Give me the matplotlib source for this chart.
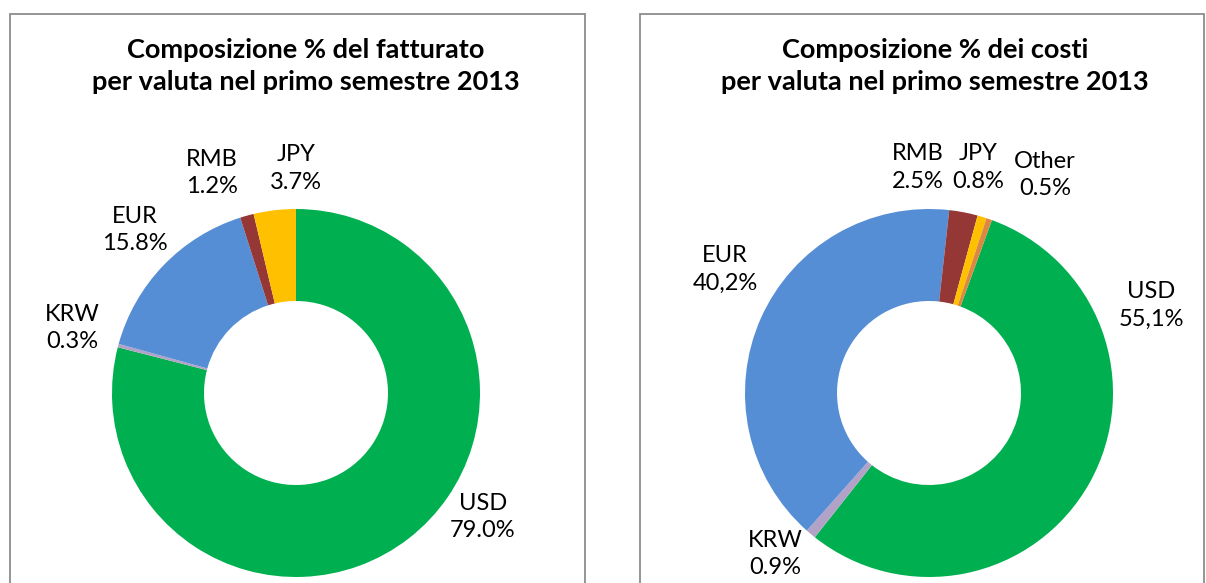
import matplotlib
matplotlib.use("Agg")
import matplotlib.pyplot as plt
from matplotlib.patches import Rectangle

plt.rcParams['font.family'] = ['Lato', 'DejaVu Sans']

# Dati
valute_ricavi = ["USD", "KRW", "EUR", "RMB", "JPY"]
quote_ricavi = [79.0, 0.3, 15.8, 1.2, 3.7]
etichette_ricavi = ["79.0%", "0.3%", "15.8%", "1.2%", "3.7%"]

valute_costi = ["USD", "KRW", "EUR", "RMB", "JPY", "Other"]
quote_costi = [55.1, 0.9, 40.2, 2.5, 0.8, 0.5]
etichette_costi = ["55,1%", "0.9%", "40,2%", "2.5%", "0.8%", "0.5%"]

titolo_ricavi = "Composizione % del fatturato\nper valuta nel primo semestre 2013"
titolo_costi = "Composizione % dei costi\nper valuta nel primo semestre 2013"

colori = {"USD": "#00B050", "KRW": "#B3A2C7", "EUR": "#558ED5",
          "RMB": "#953735", "JPY": "#FFC000", "Other": "#DC8841"}

# posizione delle etichette (in raggi dal centro)
pos_ricavi = [(1.016, -0.674), (-1.217, 0.353), (-0.875, 0.886),
              (-0.457, 1.196), (0.0, 1.22)]
pos_costi = [(1.207, 0.478), (-0.837, -0.875), (-1.109, 0.674),
             (-0.06, 1.225), (0.266, 1.225), (0.63, 1.185)]

W, H = 1206, 583
R = 184
fig = plt.figure(figsize=(W / 100, H / 100), dpi=100)

# cornici dei grafici
for x0, x1 in [(10, 585), (640, 1204)]:
    fig.patches.append(Rectangle((x0 / W, -0.05), (x1 - x0) / W, (H - 14) / H + 0.05,
                                 transform=fig.transFigure, fill=False,
                                 edgecolor="#8C8C8C", linewidth=1.3))


def ciambella(cx, cy, valute, quote, etichette, pos, start, titolo, tx):
    ax = fig.add_axes([(cx - R) / W, (H - cy - R) / H, 2 * R / W, 2 * R / H])
    ax.pie(quote, colors=[colori[v] for v in valute], startangle=start,
           counterclock=False, wedgeprops=dict(width=0.5, linewidth=0))
    ax.set_xlim(-1, 1)
    ax.set_ylim(-1, 1)
    ax.axis("off")
    for v, e, (x, y) in zip(valute, etichette, pos):
        ax.text(x, y, f"{v}\n{e}", ha="center", va="center", fontsize=17,
                linespacing=1.4, color="#000000", clip_on=False)
    fig.text(tx / W, 1 - 66 / H, titolo, ha="center", va="center",
             fontsize=19.5, fontweight="bold", linespacing=1.35)


ciambella(296, 393, valute_ricavi, quote_ricavi, etichette_ricavi, pos_ricavi,
          90, titolo_ricavi, 306)
ciambella(929, 393, valute_costi, quote_costi, etichette_costi, pos_costi,
          70, titolo_costi, 935)

fig.savefig("out.png", dpi=100)
